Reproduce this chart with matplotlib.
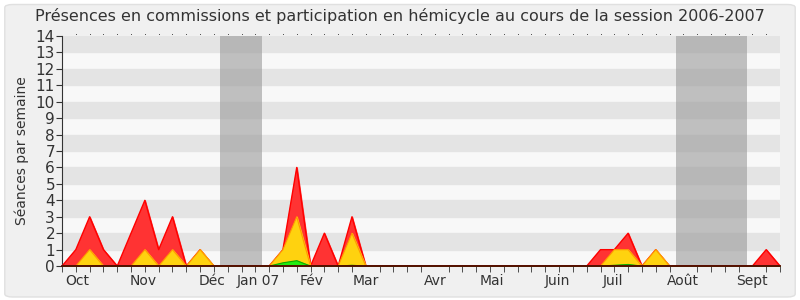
import matplotlib.pyplot as plt
import numpy as np
from matplotlib.patches import FancyBboxPatch

# semaines de la session (index 0..52)
semaines = np.arange(53)

total = [0, 1, 3, 1, 0, 2, 4, 1, 3, 0, 1, 0, 0, 0, 0, 0, 1, 6, 0, 2, 0, 3, 0,
         0, 0, 0, 0, 0, 0, 0, 0, 0, 0, 0, 0, 0, 0, 0, 0, 1, 1, 2, 0, 1, 0,
         0, 0, 0, 0, 0, 0, 1, 0]
hemicycle = [0, 0, 1, 0, 0, 0, 1, 0, 1, 0, 1, 0, 0, 0, 0, 0, 1, 3, 0, 0, 0, 2, 0,
             0, 0, 0, 0, 0, 0, 0, 0, 0, 0, 0, 0, 0, 0, 0, 0, 0, 1, 1, 0, 1, 0,
             0, 0, 0, 0, 0, 0, 0, 0]
commissions = [0, 0, 0, 0, 0, 0, 0.03, 0, 0, 0, 0, 0, 0, 0, 0, 0, 0.2, 0.33, 0, 0, 0, 0.05, 0,
               0, 0, 0, 0, 0, 0, 0, 0, 0, 0, 0, 0, 0, 0, 0, 0, 0, 0.05, 0.1, 0, 0.02, 0,
               0, 0, 0, 0, 0, 0, 0, 0]

mois = ['Oct', 'Nov', 'Déc', 'Jan 07', 'Fév', 'Mar', 'Avr', 'Mai', 'Juin', 'Juil', 'Août', 'Sept']
pos_mois = [1.1, 5.9, 10.9, 14.2, 18.1, 22.0, 27.0, 31.1, 35.9, 39.9, 45.0, 50.0]
vacances = [(11.45, 14.5), (44.5, 49.6)]

fig = plt.figure(figsize=(8, 3), dpi=100)
fig.patch.set_facecolor('white')
fond = FancyBboxPatch((0.006, 0.01), 0.988, 0.975, boxstyle='round,pad=0,rounding_size=0.01',
                      transform=fig.transFigure, facecolor='#f0f0f0', edgecolor='#e0e0e0',
                      linewidth=1, zorder=-10)
fig.patches.append(fond)

ax = fig.add_axes([0.0775, 0.113, 0.8975, 0.767])
ax.set_facecolor('#f8f8f8')
for y in range(1, 14, 2):
    ax.axhspan(y, y + 1, color='#e4e4e4', zorder=0)
for a, b in vacances:
    ax.axvspan(a, b, color='#999999', alpha=0.6, zorder=1, linewidth=0)

ax.fill_between(semaines, total, color='#ff3333', zorder=2)
ax.plot(semaines, total, color='#ff0000', linewidth=1, zorder=3)
ax.fill_between(semaines, hemicycle, color='#ffd20f', zorder=4)
ax.plot(semaines, hemicycle, color='#ff9900', linewidth=0.8, zorder=5)
ax.fill_between(semaines, commissions, color='#22ee11', zorder=6)
ax.plot(semaines, commissions, color='#11aa00', linewidth=0.8, zorder=7)

ax.set_xlim(0, 52)
ax.set_ylim(0, 14)
ax.set_yticks(range(15))
ax.tick_params(axis='y', labelsize=11, length=4, pad=1, colors='#333333')
ax.set_xticks(pos_mois)
ax.set_xticklabels(mois, fontsize=10, color='#333333')
ax.tick_params(axis='x', which='major', length=0, pad=6)
ax.set_xticks(semaines, minor=True)
ax.tick_params(axis='x', which='minor', length=4, color='#333333', direction='out')
for x in semaines[1:-1]:
    ax.plot(x, 14.1, marker='s', markersize=0.7, markeredgewidth=0, color='#555555',
            clip_on=False, zorder=8)
for s in ax.spines.values():
    s.set_visible(False)
ax.spines['bottom'].set_visible(True)
ax.spines['left'].set_visible(True)
ax.spines['bottom'].set_color('#550000')
ax.spines['bottom'].set_linewidth(1.3)
ax.spines['bottom'].set_zorder(10)
ax.spines['left'].set_color('#333333')

ax.set_ylabel('Séances par semaine', fontsize=10, color='#333333', labelpad=5)
fig.suptitle('Présences en commissions et participation en hémicycle au cours de la session 2006-2007',
             fontsize=11.5, color='#333333', y=0.975)

fig.savefig('out.png', dpi=100, facecolor=fig.get_facecolor())
